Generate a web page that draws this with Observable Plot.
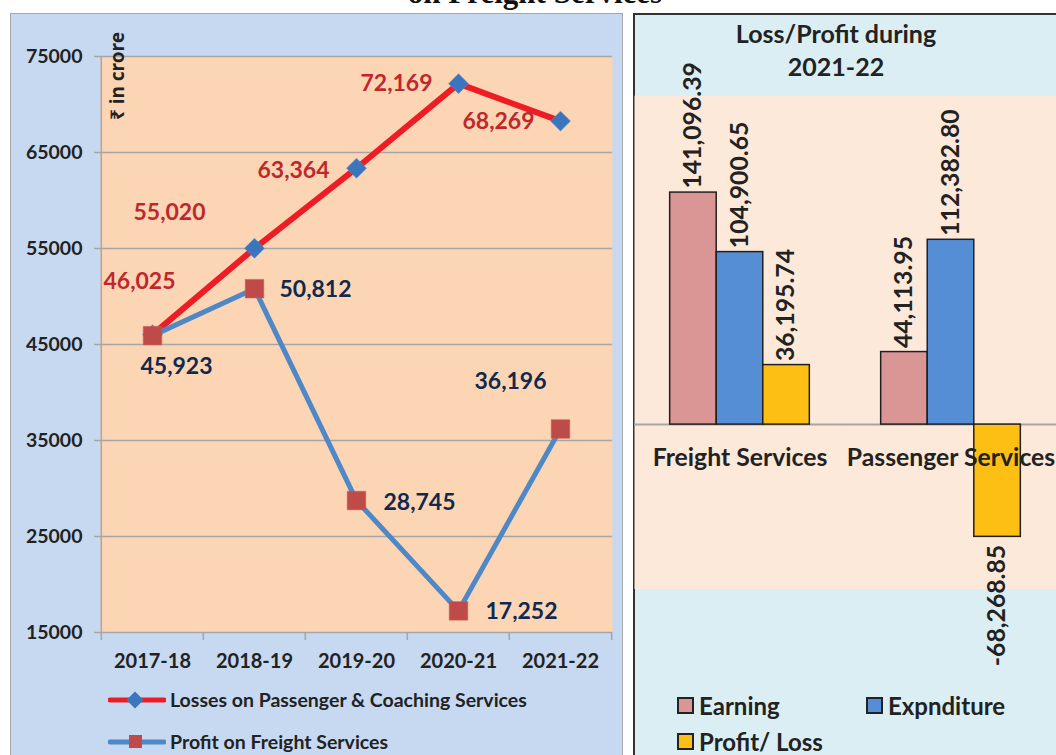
<!DOCTYPE html>
<html><head><meta charset="utf-8">
<script src="https://cdn.jsdelivr.net/npm/d3@7"></script>
<script src="https://cdn.jsdelivr.net/npm/@observablehq/plot@0.6"></script>
<style>
body{margin:0;background:#fff;width:1056px;height:755px;overflow:hidden;position:relative;font-family:Lato,"Noto Sans","DejaVu Sans",sans-serif;color:#222;}
.abs{position:absolute;}
#top{left:0;width:1070px;top:-23px;text-align:center;font:bold 31px/31px "Liberation Serif",serif;color:#111;white-space:nowrap;}
#leftBg{left:10px;top:13px;width:613px;height:760px;background:#c6d9f1;border:1px solid #a6a6a6;box-sizing:border-box;}
#rightBg{left:633px;top:13px;width:440px;height:760px;background:#dbeef4;border-left:2px solid #333;border-top:2px solid #333;box-sizing:border-box;}
#leftChart{left:10px;top:13px;}
#rightChart{left:634px;top:13px;}
#unit{left:117px;top:76px;transform:translate(-50%,-50%) rotate(-90deg);font-weight:bold;font-size:19px;white-space:nowrap;color:#222;font-family:"Noto Sans",Lato,"DejaVu Sans",sans-serif;}
#rtitle{left:636px;width:400px;top:17px;text-align:center;font-weight:bold;font-size:25px;line-height:33px;color:#222;}
.lleg{font-weight:bold;font-size:19.5px;color:#222;white-space:nowrap;display:flex;align-items:center;}
.lleg svg{margin-right:4px;}
.rleg{font-weight:bold;font-size:24px;color:#222;white-space:nowrap;display:flex;align-items:center;}
.sw{width:13px;height:13px;border:2px solid #222;margin-right:5px;}
</style>
</head><body>
<div id="top" class="abs">on Freight Services</div>
<div id="leftBg" class="abs"></div>
<div id="rightBg" class="abs"></div>
<div id="leftChart" class="abs"></div>
<div id="rightChart" class="abs"></div>
<div id="unit" class="abs">₹ in crore</div>
<div id="rtitle" class="abs">Loss/Profit during<br>2021-22</div>
<div id="lleg1" class="abs lleg" style="left:108px;top:688px;"></div>
<div id="lleg2" class="abs lleg" style="left:108px;top:730px;"></div>
<div id="rleg" class="abs"></div>
<script>
// ---------- data ----------
const years = ["2017-18", "2018-19", "2019-20", "2020-21", "2021-22"];
const lossPassenger = [46025, 55020, 63364, 72169, 68269];
const profitFreight = [45923, 50812, 28745, 17252, 36196];
const yTicks = [15000, 25000, 35000, 45000, 55000, 65000, 75000];
const lineSeries = ["Losses on Passenger & Coaching Services", "Profit on Freight Services"];

const services = ["Freight Services", "Passenger Services"];
const barSeries = ["Earning", "Expnditure", "Profit/ Loss"];
const earning = [141096.39, 44113.95];
const expenditure = [104900.65, 112382.80];
const profitLoss = [36195.74, -68268.85];

// ---------- styles ----------
const FONT = 'Lato, "Noto Sans", "DejaVu Sans", sans-serif';
const RED = "#ee1c25", BLUE = "#4f88c6", DIAMOND = "#3a75bd", SQUARE = "#be4b48";
const RED_TXT = "#c0272d", NAVY_TXT = "#10294d";
const GRID = "#a6a6a6";
const barColors = ["#d99694", "#558ed5", "#fdbf13"];

// ---------- left chart ----------
const L = {w: 614, h: 660, ml: 90, mr: 12, mt: 43, mb: 41};
const step = (L.w - L.ml - L.mr) / years.length;
const idx = d3.range(years.length);
const comma = d3.format(",");
const lossOff = [[-13, -53], [-85, -36], [-63, 2], [-62, 0], [-62, 1]];
const profOff = [[24, 31], [61, 1], [63, 2], [63, 1], [-50, -47]];
const labelMarks = [];
idx.forEach(i => {
  labelMarks.push(Plot.text([i], {x: j => years[j], y: j => lossPassenger[j], text: j => comma(lossPassenger[j]),
    dx: lossOff[i][0], dy: lossOff[i][1], fill: RED_TXT, fontSize: 23, fontWeight: "bold"}));
  labelMarks.push(Plot.text([i], {x: j => years[j], y: j => profitFreight[j], text: j => comma(profitFreight[j]),
    dx: profOff[i][0], dy: profOff[i][1], fill: NAVY_TXT, fontSize: 23, fontWeight: "bold"}));
});

const left = Plot.plot({
  width: L.w, height: L.h, marginLeft: L.ml, marginRight: L.mr, marginTop: L.mt, marginBottom: L.mb,
  style: {background: "transparent", fontFamily: FONT, fontWeight: "bold", fontSize: "17px", color: "#222", overflow: "visible"},
  x: {type: "band", domain: years, padding: 0, axis: null},
  y: {domain: [15000, 75000], axis: null},
  marks: [
    Plot.frame({fill: "#fcd5b5", stroke: null}),
    Plot.gridY(yTicks, {stroke: GRID, strokeOpacity: 1, strokeWidth: 1.5, insetLeft: -6}),
    Plot.axisY(yTicks, {tickSize: 0, tickPadding: 18, tickFormat: d3.format("d"), fill: "#222", fontSize: 19.5, fontWeight: "bold"}),
    Plot.ruleX([years[0]], {dx: -step / 2, stroke: GRID, strokeWidth: 1.5}),
    Plot.ruleX(years, {dx: -step / 2, y1: 15000, y2: 15000, insetBottom: -8, stroke: GRID, strokeWidth: 1.5}),
    Plot.ruleX([years[years.length - 1]], {dx: step / 2, y1: 15000, y2: 15000, insetBottom: -8, stroke: GRID, strokeWidth: 1.5}),
    Plot.axisX(years, {tickSize: 0, tickPadding: 21, fill: "#222", fontSize: 20, fontWeight: "bold"}),
    Plot.line(idx, {x: i => years[i], y: i => lossPassenger[i], stroke: RED, strokeWidth: 6}),
    Plot.dot(idx, {x: i => years[i], y: i => lossPassenger[i], symbol: "diamond2", r: 9, fill: DIAMOND, stroke: "#5b8fd0", strokeWidth: 0.5}),
    Plot.line(idx, {x: i => years[i], y: i => profitFreight[i], stroke: BLUE, strokeWidth: 5}),
    Plot.dot(idx, {x: i => years[i], y: i => profitFreight[i], symbol: "square", r: 10.5, fill: SQUARE, stroke: "#d0605c", strokeWidth: 0.5}),
    ...labelMarks
  ]
});
document.getElementById("leftChart").append(left);

// left legend
function lineSwatch(stroke, sym, fill) {
  const s = sym === "diamond"
    ? `<rect x="21" y="3" width="12" height="12" transform="rotate(45 27 9)" fill="${fill}"/>`
    : `<rect x="21" y="2" width="13" height="13" fill="${fill}"/>`;
  return `<svg width="58" height="18"><line x1="2" x2="56" y1="9" y2="9" stroke="${stroke}" stroke-width="5" stroke-linecap="round"/>${s}</svg>`;
}
document.getElementById("lleg1").innerHTML = lineSwatch(RED, "diamond", DIAMOND) + lineSeries[0];
document.getElementById("lleg2").innerHTML = lineSwatch(BLUE, "square", SQUARE) + lineSeries[1];

// ---------- right chart ----------
const rows = services.flatMap((s, i) => [
  {service: s, series: barSeries[0], value: earning[i]},
  {service: s, series: barSeries[1], value: expenditure[i]},
  {service: s, series: barSeries[2], value: profitLoss[i]}
]);
const fmt2 = d3.formatLocale({decimal: ".", thousands: ",", grouping: [3], currency: ["", ""], minus: "-"}).format(",.2f");

const right = Plot.plot({
  width: 426, height: 742, marginTop: 83, marginBottom: 161, marginLeft: 0, marginRight: 0,
  style: {background: "transparent", fontFamily: FONT, fontWeight: "bold", color: "#222", overflow: "visible"},
  fx: {domain: services, padding: 0, axis: null},
  x: {domain: barSeries, paddingInner: 0, paddingOuter: 0.75, axis: null},
  y: {domain: [-100000, 200000], axis: null},
  color: {domain: barSeries, range: barColors},
  marks: [
    Plot.frame({fill: "#fde9d9", stroke: null}),
    Plot.ruleY([0], {stroke: GRID, strokeWidth: 2}),
    Plot.barY(rows, {fx: "service", x: "series", y: "value", fill: "series", stroke: "#1f1f1f", strokeWidth: 1.5}),
    Plot.text(services, {fx: d => d, y: d => 0, text: d => d, dy: 34, fontSize: 25, fontWeight: "bold", fill: "#222"}),
    Plot.text(rows.filter(r => r.value >= 0), {fx: "service", x: "series", y: "value", text: r => fmt2(r.value),
      rotate: -90, textAnchor: "start", dy: -4, fontSize: 25, fontWeight: "bold", fill: "#222"}),
    Plot.text(rows.filter(r => r.value < 0), {fx: "service", x: "series", y: "value", text: r => fmt2(r.value),
      rotate: -90, textAnchor: "end", dy: 8, fontSize: 25, fontWeight: "bold", fill: "#222"})
  ]
});
document.getElementById("rightChart").append(right);

// right legend
const rl = document.getElementById("rleg");
const legPos = [[677, 691], [866, 691], [677, 727]];
barSeries.forEach((s, i) => {
  const d = document.createElement("div");
  d.className = "abs rleg";
  d.style.left = legPos[i][0] + "px";
  d.style.top = legPos[i][1] + "px";
  d.innerHTML = `<div class="sw" style="background:${barColors[i]}"></div>${s}`;
  rl.append(d);
});
</script>
</body></html>
